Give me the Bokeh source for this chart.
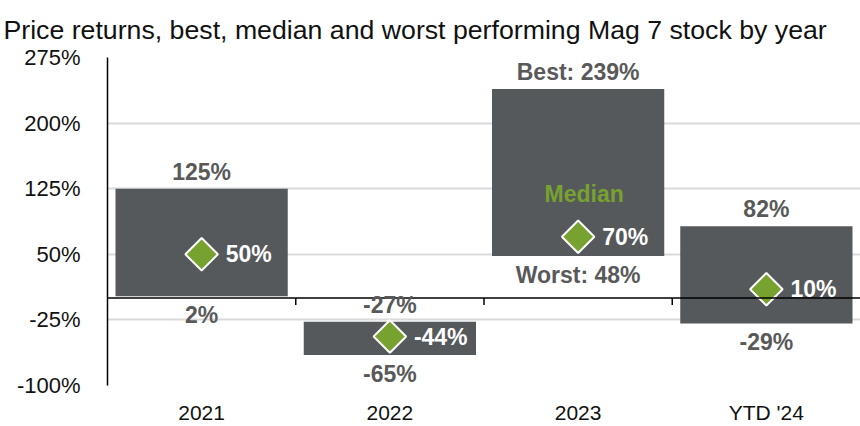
import math
from bokeh.plotting import figure
from bokeh.models import FactorRange, Range1d, FixedTicker, ColumnDataSource, LabelSet, Span
from bokeh.embed import file_html
from bokeh.resources import INLINE
from bokeh.core.properties import value

# ---- data ----
years = ["2021", "2022", "2023", "YTD '24"]
best = [125, -27, 239, 82]
worst = [2, -65, 48, -29]
median = [50, -44, 70, 10]
top_labels = ["125%", "-27%", "Best: 239%", "82%"]
bottom_labels = ["2%", "-65%", "Worst: 48%", "-29%"]
median_labels = ["50%", "-44%", "70%", "10%"]
y_ticks = [-100, -25, 50, 125, 200, 275]
y_tick_labels = ["-100%", "-25%", "50%", "125%", "200%", "275%"]
title_text = "Price returns, best, median and worst performing Mag 7 stock by year"

BAR = "#56595c"
GREEN = "#78a22f"
GRAY = "#595959"
FONT = "Liberation Sans"

src = ColumnDataSource(dict(year=years, best=best, worst=worst, median=median,
                            top_lbl=top_labels, bot_lbl=bottom_labels, med_lbl=median_labels))

p = figure(x_range=FactorRange(factors=years, range_padding=0),
           y_range=Range1d(y_ticks[0], y_ticks[-1]),
           width=860, height=426,
           output_backend="svg", toolbar_location=None,
           min_border_left=107, min_border_right=0, min_border_bottom=41, min_border_top=57)

p.title.text = title_text
p.title.text_font = FONT
p.title.text_font_size = "26.7px"
p.title.text_font_style = "normal"
p.title.text_color = "#111111"
p.title.align = "left"
p.title.standoff = 25
p.title.offset = -104

p.outline_line_color = None
p.xgrid.grid_line_color = None
p.ygrid.grid_line_color = "#d9d9d9"
p.ygrid.grid_line_width = 2
p.ygrid.ticker = FixedTicker(ticks=y_ticks)

p.yaxis.ticker = FixedTicker(ticks=y_ticks)
p.yaxis.major_label_overrides = {t: l for t, l in zip(y_ticks, y_tick_labels)}
p.yaxis.axis_line_color = "black"
p.yaxis.axis_line_width = 1.5
p.yaxis.major_tick_line_color = None
p.yaxis.minor_tick_line_color = None
p.yaxis.major_label_standoff = 21
p.yaxis.major_label_text_font = FONT
p.yaxis.major_label_text_font_size = "22px"
p.yaxis.major_label_text_color = "#111111"

p.xaxis.axis_line_color = None
p.xaxis.major_tick_line_color = None
p.xaxis.major_tick_out = 0
p.xaxis.major_label_standoff = 15
p.xaxis.major_label_text_font = FONT
p.xaxis.major_label_text_font_size = "21px"
p.xaxis.major_label_text_color = "#111111"

# bars
p.vbar(x="year", top="best", bottom="worst", width=0.915, fill_color=BAR, line_color=None, source=src)

# zero line + category boundary ticks
p.add_layout(Span(location=0, dimension="width", line_color="black", line_width=1.5))
bounds = list(range(1, len(years)))
p.segment(x0=bounds, x1=bounds, y0=[0] * len(bounds), y1=[-8] * len(bounds), line_color="black", line_width=1.5)

# median diamonds
p.scatter(x="year", y="median", marker="square", angle=math.pi / 4, size=23,
          fill_color=GREEN, line_color="white", line_width=2, source=src)

common = dict(text_font=value(FONT), text_font_style="bold", text_font_size="23px")
p.add_layout(LabelSet(x="year", y="best", text="top_lbl", source=src, text_align="center",
                      text_baseline="middle", y_offset=17, text_color=GRAY, **common))
p.add_layout(LabelSet(x="year", y="worst", text="bot_lbl", source=src, text_align="center",
                      text_baseline="middle", y_offset=-19, text_color=GRAY, **common))
p.add_layout(LabelSet(x="year", y="median", text="med_lbl", source=src, text_align="left",
                      text_baseline="middle", x_offset=24, text_color="white", **common))

mid_src = ColumnDataSource(dict(year=[years[2]], median=[median[2]], txt=["Median"]))
p.add_layout(LabelSet(x="year", y="median", text="txt", source=mid_src, text_align="center",
                      text_baseline="middle", x_offset=6, y_offset=43, text_color=GREEN, **common))

open("out.html", "w").write(file_html(p, INLINE))
